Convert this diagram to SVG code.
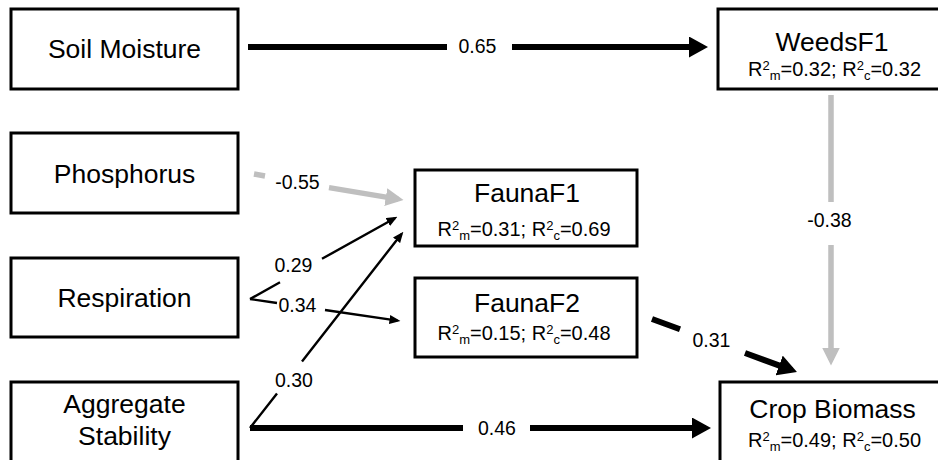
<svg xmlns="http://www.w3.org/2000/svg" width="938" height="460" viewBox="0 0 938 460">
<defs>
<style>
.box{fill:#fff;stroke:#000;stroke-width:3}
.title{font-family:"Liberation Sans",Arial,sans-serif;font-size:26.5px;fill:#000;text-anchor:middle}
.r2{font-family:"Liberation Sans",Arial,sans-serif;font-size:20px;fill:#000;text-anchor:middle}
.r2 .s{font-size:13px}
.lbl{font-family:"Liberation Sans",Arial,sans-serif;font-size:19.5px;fill:#000;text-anchor:middle}
.thick{fill:none;stroke:#000;stroke-width:6;marker-end:url(#headThick)}
.thin{fill:none;stroke:#000;stroke-width:2.4;marker-end:url(#headThin)}
.gray{fill:none;stroke:#bfbfbf;stroke-width:5.5;marker-end:url(#headGray)}
</style>
<marker id="headThick" markerUnits="userSpaceOnUse" markerWidth="19" markerHeight="21" refX="13.5" refY="10.5" orient="auto"><path d="M0,0 L19,10.5 L0,21 Z" fill="#000"/></marker>
<marker id="headThin" markerUnits="userSpaceOnUse" markerWidth="11" markerHeight="9" refX="8" refY="4.5" orient="auto"><path d="M0,0 L11,4.5 L0,9 Z" fill="#000"/></marker>
<marker id="headGray" markerUnits="userSpaceOnUse" markerWidth="18" markerHeight="18" refX="12.5" refY="9" orient="auto"><path d="M0,0 L18,9 L0,18 Z" fill="#bfbfbf"/></marker>
</defs>
<rect width="938" height="460" fill="#fff"/>

<g id="connectors">
<path id="e-soil-weeds" class="thick" d="M248,47 H447 M512,47 H702.5"/>
<path id="e-agg-crop" class="thick" d="M250,428 H463 M530,428 H705.5"/>
<path id="e-weeds-crop" class="gray" d="M831,95 V202 M831,245 V360"/>
<path id="e-phos-f1" class="gray" d="M254,174 L265,176 M329,187.6 L398.1,199.1"/>
<path id="e-resp-f1" class="thin" d="M250,299 L280,282.3 M322,258.8 L394.8,218.2"/>
<path id="e-resp-f2" class="thin" d="M250,299 L277,303 M325,310 L397.5,320.6"/>
<path id="e-agg-f1" class="thin" d="M250,428 L277,393.4 M302,361.4 L401.5,234"/>
<path id="e-f2-crop" class="thick" d="M652,319 L680,329.2 M745,353 L791.8,370.1"/>
<text class="lbl" x="477.5" y="53">0.65</text>
<text class="lbl" x="297.5" y="189">-0.55</text>
<text class="lbl" x="293.5" y="272">0.29</text>
<text class="lbl" x="297.5" y="312">0.34</text>
<text class="lbl" x="294" y="387">0.30</text>
<text class="lbl" x="497" y="435">0.46</text>
<text class="lbl" x="711.5" y="347">0.31</text>
<text class="lbl" x="829.5" y="227">-0.38</text>
</g>

<g id="soil-moisture">
<rect class="box" x="11" y="9" width="227" height="80"/>
<text class="title" x="124.5" y="58">Soil Moisture</text>
</g>
<g id="phosphorus">
<rect class="box" x="11" y="133" width="227" height="80"/>
<text class="title" x="124.5" y="183">Phosphorus</text>
</g>
<g id="respiration">
<rect class="box" x="11" y="258" width="227" height="79"/>
<text class="title" x="124.5" y="307">Respiration</text>
</g>
<g id="aggregate-stability">
<rect class="box" x="11" y="382" width="227" height="100"/>
<text class="title" x="124.5" y="413">Aggregate</text>
<text class="title" x="124.5" y="445">Stability</text>
</g>
<g id="weedsf1">
<rect class="box" x="718" y="9" width="240" height="80"/>
<text class="title" x="832" y="51">WeedsF1</text>
<text class="r2" x="834.5" y="76">R<tspan class="s" dy="-6">2</tspan><tspan class="s" dy="10">m</tspan><tspan dy="-4">=0.32; R</tspan><tspan class="s" dy="-6">2</tspan><tspan class="s" dy="10">c</tspan><tspan dy="-4">=0.32</tspan></text>
</g>
<g id="faunaf1">
<rect class="box" x="415" y="170" width="222" height="76"/>
<text class="title" x="527" y="202">FaunaF1</text>
<text class="r2" x="524" y="236">R<tspan class="s" dy="-6">2</tspan><tspan class="s" dy="10">m</tspan><tspan dy="-4">=0.31; R</tspan><tspan class="s" dy="-6">2</tspan><tspan class="s" dy="10">c</tspan><tspan dy="-4">=0.69</tspan></text>
</g>
<g id="faunaf2">
<rect class="box" x="415" y="278" width="222" height="79"/>
<text class="title" x="527" y="312">FaunaF2</text>
<text class="r2" x="524" y="340">R<tspan class="s" dy="-6">2</tspan><tspan class="s" dy="10">m</tspan><tspan dy="-4">=0.15; R</tspan><tspan class="s" dy="-6">2</tspan><tspan class="s" dy="10">c</tspan><tspan dy="-4">=0.48</tspan></text>
</g>
<g id="crop-biomass">
<rect class="box" x="720" y="382" width="240" height="100"/>
<text class="title" x="832.5" y="418">Crop Biomass</text>
<text class="r2" x="834.5" y="447">R<tspan class="s" dy="-6">2</tspan><tspan class="s" dy="10">m</tspan><tspan dy="-4">=0.49; R</tspan><tspan class="s" dy="-6">2</tspan><tspan class="s" dy="10">c</tspan><tspan dy="-4">=0.50</tspan></text>
</g>
</svg>
